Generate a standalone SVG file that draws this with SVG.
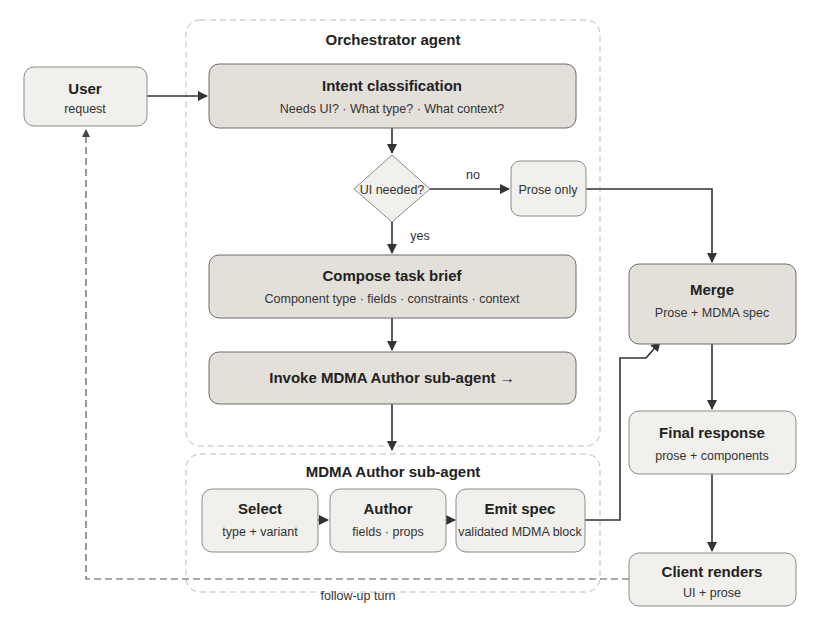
<svg xmlns="http://www.w3.org/2000/svg" width="822" height="626" viewBox="0 0 822 626">
<style>
text{font-family:"Liberation Sans",Arial,sans-serif;fill:#222;text-anchor:middle}
.t{font-weight:bold;font-size:15px}
.s{font-size:12.5px;fill:#333}
.lt{fill:#f1f0ec;stroke:#8c8c88;stroke-width:1}
.dk{fill:#e3e0da;stroke:#6d6d69;stroke-width:1}
.grp{fill:none;stroke:#bdbdbd;stroke-dasharray:6 4;stroke-width:1}
.c{fill:none;stroke:#333;stroke-width:1.6}
.d{fill:none;stroke:#555;stroke-width:1.2;stroke-dasharray:7 4}
</style>
<defs><marker id="a" markerWidth="10" markerHeight="10" refX="9" refY="5" orient="auto" markerUnits="userSpaceOnUse"><path d="M0,0L10,5L0,10z" fill="#333"/></marker>
<marker id="b" markerWidth="8" markerHeight="8" refX="7" refY="4" orient="auto" markerUnits="userSpaceOnUse"><path d="M0,0L8,4L0,8z" fill="#444"/></marker></defs>
<rect width="822" height="626" fill="#fff"/>
<g id="orchestrator"><rect class="grp" x="186" y="20" width="414" height="426" rx="14"/><text class="t" x="393" y="45">Orchestrator agent</text></g>
<g id="subagent"><rect class="grp" x="186" y="454" width="414" height="138" rx="14"/><text class="t" x="393" y="477">MDMA Author sub-agent</text></g>
<g id="connectors">
<path class="c" d="M147,96H207" marker-end="url(#a)"/>
<path class="c" d="M392,128V153" marker-end="url(#a)"/>
<path class="c" d="M430,189H509" marker-end="url(#a)"/>
<text class="s" x="473" y="179">no</text>
<path class="c" d="M392,222V253" marker-end="url(#a)"/>
<text class="s" x="420" y="240">yes</text>
<path class="c" d="M586,189H712V262" marker-end="url(#a)"/>
<path class="c" d="M392,318V350" marker-end="url(#a)"/>
<path class="c" d="M392,404V450" marker-end="url(#a)"/>
<path class="c" d="M318,520H328" marker-end="url(#a)"/>
<path class="c" d="M446,520H455" marker-end="url(#a)"/>
<path class="c" d="M585,520H620V358H646L660,342" marker-end="url(#a)"/>
<path class="c" d="M712,344V409" marker-end="url(#a)"/>
<path class="c" d="M712,474V551" marker-end="url(#a)"/>
<path class="d" d="M629,579H86V130" marker-end="url(#b)"/>
<text class="s" x="358" y="600">follow-up turn</text>
</g>
<g id="user"><rect class="lt" x="24" y="67" width="123" height="59" rx="10"/><text class="t" x="85" y="94">User</text><text class="s" x="85" y="113">request</text></g>
<g id="intent"><rect class="dk" x="209" y="64" width="367" height="64" rx="10"/><text class="t" x="392" y="91">Intent classification</text><text class="s" x="392" y="113">Needs UI? · What type? · What context?</text></g>
<g id="decision"><path class="lt" d="M392,155L430,189L392,222L354,189z" fill="#f1f0ec"/><text class="s" x="392" y="194">UI needed?</text></g>
<g id="prose"><rect class="lt" x="511" y="161" width="75" height="55" rx="9"/><text class="s" x="548" y="194">Prose only</text></g>
<g id="compose"><rect class="dk" x="209" y="255" width="367" height="63" rx="10"/><text class="t" x="392" y="281">Compose task brief</text><text class="s" x="392" y="303">Component type · fields · constraints · context</text></g>
<g id="invoke"><rect class="dk" x="209" y="352" width="367" height="52" rx="10"/><text class="t" x="392" y="383">Invoke MDMA Author sub-agent →</text></g>
<g id="select"><rect class="lt" x="202" y="489" width="116" height="63" rx="10"/><text class="t" x="260" y="514">Select</text><text class="s" x="260" y="536">type + variant</text></g>
<g id="author"><rect class="lt" x="330" y="489" width="116" height="63" rx="10"/><text class="t" x="388" y="514">Author</text><text class="s" x="388" y="536">fields · props</text></g>
<g id="emit"><rect class="lt" x="456" y="489" width="129" height="63" rx="10"/><text class="t" x="520" y="514">Emit spec</text><text class="s" x="520" y="536">validated MDMA block</text></g>
<g id="merge"><rect class="dk" x="629" y="264" width="167" height="80" rx="10"/><text class="t" x="712" y="295">Merge</text><text class="s" x="712" y="317">Prose + MDMA spec</text></g>
<g id="final"><rect class="lt" x="629" y="411" width="167" height="63" rx="10"/><text class="t" x="712" y="438">Final response</text><text class="s" x="712" y="460">prose + components</text></g>
<g id="client"><rect class="lt" x="629" y="553" width="167" height="53" rx="10"/><text class="t" x="712" y="577">Client renders</text><text class="s" x="712" y="597">UI + prose</text></g>
</svg>
